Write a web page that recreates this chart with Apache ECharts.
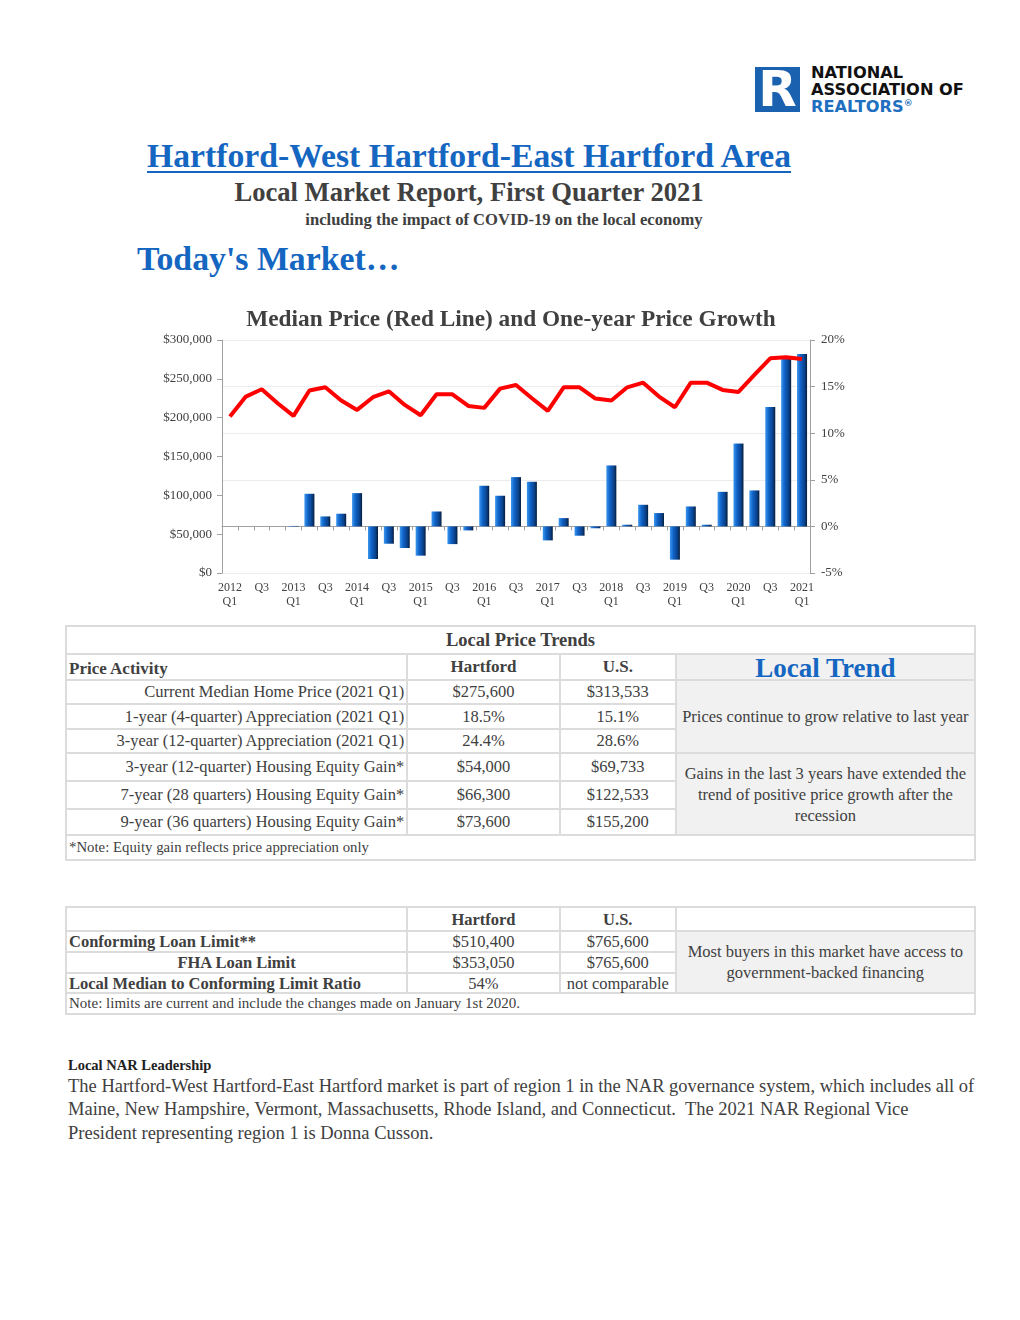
<!DOCTYPE html>
<html><head><meta charset="utf-8">
<script src="https://cdn.jsdelivr.net/npm/echarts@6/dist/echarts.min.js"></script>
<style>
html,body{margin:0;padding:0;background:#fff;}
body{width:1020px;height:1320px;position:relative;font-family:"Liberation Serif","Times New Roman",serif;color:#404040;overflow:hidden;}
.abs{position:absolute;}
.logoBox{left:755px;top:67px;width:45px;height:45px;background:#1a62b0;}
.logoR{left:755px;top:60px;width:45px;height:52px;color:#fff;font:bold 50px "DejaVu Sans",sans-serif;text-align:center;line-height:58px;}
.logoT{left:811px;font:bold 16.2px "DejaVu Sans","Noto Sans",sans-serif;color:#111;line-height:17px;white-space:nowrap;}
table{border-collapse:collapse;position:absolute;font-family:"Liberation Serif",serif;color:#404040;font-size:16.5px;}
td{border:2px solid #dcdcdc;padding:0 2px;text-align:center;}
.t2 td{line-height:17px;}
.gray{background:#f1f1f1;}
</style></head>
<body>
<div class="abs logoBox"></div>
<div class="abs logoR">R</div>
<div class="abs logoT" style="top:64px;">NATIONAL</div>
<div class="abs logoT" style="top:81px;">ASSOCIATION OF</div>
<div class="abs logoT" style="top:98px;color:#1f6fc0;">REALTORS<span style="font-size:9px;position:relative;top:-6px;">®</span></div>

<div class="abs" style="left:0;width:938px;top:137px;text-align:center;font-weight:bold;font-size:33.7px;color:#1466c1;"><span style="text-decoration:underline;text-decoration-thickness:2px;text-underline-offset:4px;">Hartford-West Hartford-East Hartford Area</span></div>
<div class="abs" style="left:0;width:938px;top:177px;text-align:center;font-weight:bold;font-size:26.6px;color:#404040;">Local Market Report, First Quarter 2021</div>
<div class="abs" style="left:255px;width:498px;top:210px;text-align:center;font-weight:bold;font-size:16.6px;color:#404040;">including the impact of COVID-19 on the local economy</div>
<div class="abs" style="left:137px;top:240px;font-weight:bold;font-size:33.8px;color:#1466c1;">Today's Market…</div>

<div id="chart" class="abs" style="left:0;top:290px;width:1020px;height:330px;"></div>

<table style="left:65px;top:625px;width:911px;">
<colgroup><col style="width:342px"><col style="width:153px"><col style="width:116px"><col style="width:300px"></colgroup>
<tr style="height:28px;"><td colspan="4" style="font-weight:bold;font-size:18.5px;padding-top:1px;">Local Price Trends</td></tr>
<tr style="height:25px;"><td style="text-align:left;font-weight:bold;font-size:17px;padding-top:4px;">Price Activity</td><td style="font-weight:bold;font-size:17px;">Hartford</td><td style="font-weight:bold;font-size:17px;">U.S.</td><td class="gray" style="font-weight:bold;font-size:27px;color:#1466c1;line-height:22px;padding-top:2px;">Local Trend</td></tr>
<tr style="height:24px;"><td style="text-align:right;">Current Median Home Price (2021 Q1)</td><td>$275,600</td><td>$313,533</td><td class="gray" rowspan="3">Prices continue to grow relative to last year</td></tr>
<tr style="height:25px;"><td style="text-align:right;">1-year (4-quarter) Appreciation (2021 Q1)</td><td>18.5%</td><td>15.1%</td></tr>
<tr style="height:24px;"><td style="text-align:right;">3-year (12-quarter) Appreciation (2021 Q1)</td><td>24.4%</td><td>28.6%</td></tr>
<tr style="height:28px;"><td style="text-align:right;">3-year (12-quarter) Housing Equity Gain*</td><td>$54,000</td><td>$69,733</td><td class="gray" rowspan="3" style="line-height:21px;">Gains in the last 3 years have extended the trend of positive price growth after the recession</td></tr>
<tr style="height:28px;"><td style="text-align:right;">7-year (28 quarters) Housing Equity Gain*</td><td>$66,300</td><td>$122,533</td></tr>
<tr style="height:26px;"><td style="text-align:right;">9-year (36 quarters) Housing Equity Gain*</td><td>$73,600</td><td>$155,200</td></tr>
<tr style="height:25px;"><td colspan="4" style="text-align:left;font-size:14.8px;">*Note: Equity gain reflects price appreciation only</td></tr>
</table>

<table class="t2" style="left:65px;top:906px;width:911px;">
<colgroup><col style="width:342px"><col style="width:153px"><col style="width:116px"><col style="width:300px"></colgroup>
<tr style="height:24px;"><td></td><td style="font-weight:bold;">Hartford</td><td style="font-weight:bold;">U.S.</td><td></td></tr>
<tr style="height:21px;"><td style="text-align:left;font-weight:bold;">Conforming Loan Limit**</td><td>$510,400</td><td>$765,600</td><td class="gray" rowspan="3" style="line-height:21px;">Most buyers in this market have access to government-backed financing</td></tr>
<tr style="height:21px;"><td style="font-weight:bold;">FHA Loan Limit</td><td>$353,050</td><td>$765,600</td></tr>
<tr style="height:20px;"><td style="text-align:left;font-weight:bold;">Local Median to Conforming Limit Ratio</td><td>54%</td><td>not comparable</td></tr>
<tr style="height:21px;"><td colspan="4" style="text-align:left;font-size:15px;">Note: limits are current and include the changes made on January 1st 2020.</td></tr>
</table>

<div class="abs" style="left:68px;top:1057px;font-weight:bold;font-size:14.5px;color:#222;">Local NAR Leadership</div>
<div class="abs" style="left:68px;top:1075px;width:909px;font-size:18.5px;line-height:23.3px;color:#404040;">The Hartford-West Hartford-East Hartford market is part of region 1 in the NAR governance system, which includes all of Maine, New Hampshire, Vermont, Massachusetts, Rhode Island, and Connecticut.&nbsp; The 2021 NAR Regional Vice President representing region 1 is Donna Cusson.</div>

<script>
const quarters = ['2012\nQ1','Q2','Q3','Q4','2013\nQ1','Q2','Q3','Q4','2014\nQ1','Q2','Q3','Q4','2015\nQ1','Q2','Q3','Q4','2016\nQ1','Q2','Q3','Q4','2017\nQ1','Q2','Q3','Q4','2018\nQ1','Q2','Q3','Q4','2019\nQ1','Q2','Q3','Q4','2020\nQ1','Q2','Q3','Q4','2021\nQ1'];
const medianPrice = [201400,227100,236600,218600,202300,234900,239100,222000,210000,226300,234000,216400,203100,230100,230100,215100,212600,237400,242100,225000,208700,239100,239100,224600,222000,239100,245100,227100,213400,245100,245100,235700,233100,255000,276400,277700,275600];
const priceGrowth = [0,0,0,0,0.05,3.5,1.07,1.36,3.57,-3.5,-1.86,-2.32,-3.14,1.6,-1.9,-0.43,4.36,3.29,5.29,4.79,-1.5,0.89,-1.0,-0.2,6.54,0.18,2.32,1.43,-3.57,2.14,0.18,3.71,8.89,3.86,12.82,18.04,18.5];
const priceTicks = [0,50000,100000,150000,200000,250000,300000];
const growthTicks = [-5,0,5,10,15,20];

const chart = echarts.init(document.getElementById('chart'));
const lab = {fontFamily:'Liberation Serif', fontSize:13, color:'#404040'};
chart.setOption({
  animation:false,
  title:{text:'Median Price (Red Line) and One-year Price Growth', left:506, textAlign:'center', top:13,
    textStyle:{fontFamily:'Liberation Serif', fontSize:23.3, fontWeight:'bold', color:'#404040'}},
  grid:{left:222, right:210, top:50, bottom:47},
  xAxis:[
    {type:'category', data:quarters, position:'bottom', axisLine:{show:false}, axisTick:{show:false},
     axisLabel:Object.assign({interval:1, lineHeight:14, margin:8}, lab, {fontSize:12})},
    {type:'category', data:quarters, position:'bottom', axisLabel:{show:false},
     axisLine:{onZero:true, onZeroAxisIndex:1, lineStyle:{color:'#a0a0a0', width:1}},
     axisTick:{show:true, interval:0, length:4, lineStyle:{color:'#a0a0a0'}}}
  ],
  yAxis:[
    {type:'value', min:priceTicks[0], max:priceTicks[priceTicks.length-1], interval:50000, position:'left',
     axisLine:{show:true, lineStyle:{color:'#a0a0a0'}}, axisTick:{show:true, length:5, lineStyle:{color:'#a0a0a0'}},
     splitLine:{show:false},
     axisLabel:Object.assign({margin:10, formatter:v=>'$'+v.toLocaleString('en-US')}, lab)},
    {type:'value', min:growthTicks[0], max:growthTicks[growthTicks.length-1], interval:5, position:'right',
     axisLine:{show:true, lineStyle:{color:'#a0a0a0'}}, axisTick:{show:true, length:5, lineStyle:{color:'#a0a0a0'}},
     splitLine:{show:true, lineStyle:{color:'#ececec', width:1}},
     axisLabel:Object.assign({margin:11, formatter:v=>v+'%'}, lab)}
  ],
  series:[
    {type:'bar', xAxisIndex:0, yAxisIndex:1, data:priceGrowth, barWidth:10,
     itemStyle:{color:new echarts.graphic.LinearGradient(0,0,1,0,[
       {offset:0,color:'#3c97ee'},{offset:0.35,color:'#0f63c8'},{offset:0.75,color:'#0a418a'},{offset:1,color:'#061d3d'}])}},
    {type:'line', xAxisIndex:0, yAxisIndex:0, data:medianPrice, showSymbol:false, symbol:'none',
     lineStyle:{color:'#ff0000', width:4}, z:5}
  ]
});
</script>
</body></html>
